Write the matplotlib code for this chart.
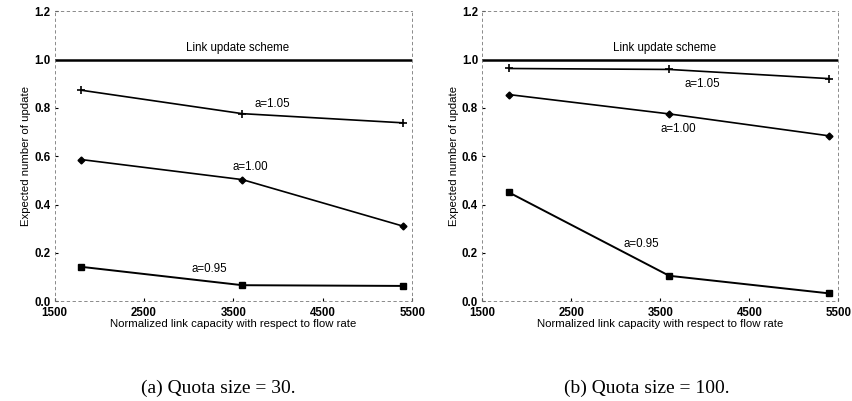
import matplotlib
matplotlib.use("Agg")
import matplotlib.pyplot as plt

# capacity values (x) shared by both panels
capacity = [1800, 3600, 5400]

# (a) quota size = 30
q30_a105 = [0.873, 0.776, 0.738]
q30_a100 = [0.586, 0.503, 0.310]
q30_a095 = [0.142, 0.066, 0.063]

# (b) quota size = 100
q100_a105 = [0.963, 0.959, 0.921]
q100_a100 = [0.855, 0.775, 0.684]
q100_a095 = [0.450, 0.105, 0.032]

link_scheme = 1.0
xticks = [1500, 2500, 3500, 4500, 5500]
yticks = [0.0, 0.2, 0.4, 0.6, 0.8, 1.0, 1.2]

panels = [
    ([0.064, 0.249, 0.420, 0.723], q30_a105, q30_a100, q30_a095,
     "(a) Quota size = 30.", 0.256,
     [(3940, 0.815), (3690, 0.555), (3230, 0.135)]),
    ([0.566, 0.249, 0.418, 0.723], q100_a105, q100_a100, q100_a095,
     "(b) Quota size = 100.", 0.759,
     [(3970, 0.90), (3700, 0.712), (3290, 0.236)]),
]

fig = plt.figure(figsize=(8.52, 4.01), dpi=100)
plt.rcParams['font.family'] = ['Liberation Sans', 'DejaVu Sans']

for rect, s105, s100, s095, caption, cx, lab_pos in panels:
    ax = fig.add_axes(rect)
    ax.axhline(link_scheme, color="black", lw=1.8)
    ax.text(3550, 1.047, "Link update scheme", ha="center", va="center", fontsize=8.3)
    ax.plot(capacity, s105, color="black", lw=1.2, marker="+", ms=6, mew=1.2)
    ax.plot(capacity, s100, color="black", lw=1.2, marker="D", ms=3.5)
    ax.plot(capacity, s095, color="black", lw=1.4, marker="s", ms=4)
    for lbl, (lx, ly) in zip(["a=1.05", "a=1.00", "a=0.95"], lab_pos):
        ax.text(lx, ly, lbl, ha="center", va="center", fontsize=8.3)
    ax.set_xlim(1500, 5500)
    ax.set_ylim(0, 1.2)
    ax.set_xticks(xticks)
    ax.set_yticks(yticks)
    ax.set_yticklabels([f"{v:.1f}" for v in yticks])
    ax.tick_params(labelsize=8.3, length=2, direction="in")
    ax.tick_params(axis="x", pad=4)
    ax.tick_params(axis="y", pad=3)
    for t in ax.get_xticklabels() + ax.get_yticklabels():
        t.set_fontweight("bold")
    for sp in ax.spines.values():
        sp.set_linestyle((0, (3, 4)))
        sp.set_linewidth(0.6)
        sp.set_color("#777777")
    ax.set_xlabel("Normalized link capacity with respect to flow rate", fontsize=8.2, labelpad=0)
    ax.set_ylabel("Expected number of update", fontsize=8.2, labelpad=2)
    fig.text(cx, 0.032, caption, ha="center", va="center", fontsize=14,
             family="Liberation Serif")

fig.savefig("out.png", dpi=100)
